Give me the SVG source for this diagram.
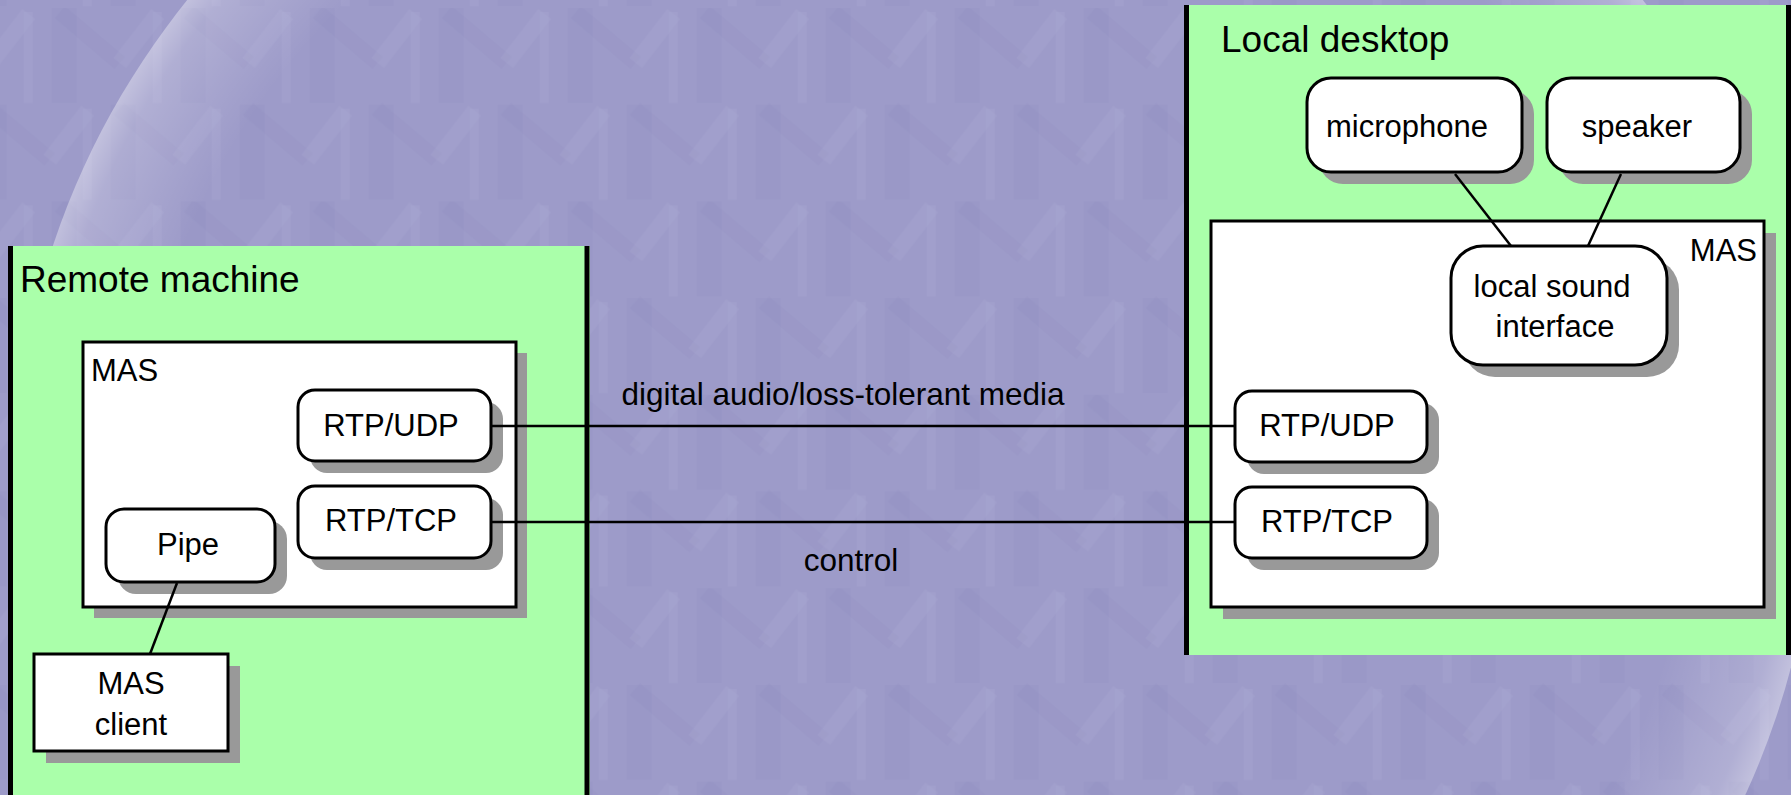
<svg xmlns="http://www.w3.org/2000/svg" width="1791" height="795" viewBox="0 0 1791 795">
  <defs>
    <style>
      .zone { fill: #aaffaa; }
      .edge { stroke: #000; stroke-width: 5; }
      .box { fill: #fff; stroke: #000; stroke-width: 3; }
      .shadow { fill: #999; }
      .wire { stroke: #000; stroke-width: 2.5; fill: none; }
      text { font-family: "Liberation Sans", Arial, sans-serif; fill: #000; }
      .title { font-size: 37px; }
      .lbl { font-size: 31px; }
      .link { font-size: 31.5px; }
      .mid { text-anchor: middle; }
    </style>
    <!-- faint M tiles of the backdrop -->
    <pattern id="mtile" x="51.7" y="8" width="129" height="193.4" patternUnits="userSpaceOnUse">
      <g id="mglyph">
        <rect x="0" y="0" width="25" height="95" fill="#8f8dbf" opacity="0.22"/>
        <line x1="8" y1="4" x2="68" y2="55" stroke="#8f8dbf" stroke-width="16" opacity="0.22"/>
        <line x1="68" y1="55" x2="106" y2="6" stroke="#acaad3" stroke-width="16" opacity="0.25"/>
        <rect x="101" y="4" width="9" height="91" fill="#acaad3" opacity="0.25"/>
      </g>
      <use href="#mglyph" x="59" y="96.7"/>
      <use href="#mglyph" x="-70" y="96.7"/>
    </pattern>
    <radialGradient id="rim" cx="0.5" cy="0.5" r="0.5">
      <stop offset="0.86" stop-color="#fff" stop-opacity="0"/>
      <stop offset="0.97" stop-color="#fff" stop-opacity="0.2"/>
      <stop offset="1" stop-color="#fff" stop-opacity="0.38"/>
    </radialGradient>
  </defs>

  <!-- backdrop -->
  <rect x="0" y="0" width="1791" height="795" fill="#9d9bc9"/>
  <rect x="0" y="0" width="1791" height="795" fill="url(#mtile)"/>
  <ellipse cx="915" cy="480" rx="900" ry="816" fill="url(#rim)"/>

  <!-- remote machine -->
  <g id="remote-machine">
    <rect class="zone" x="8" y="246" width="582" height="549"/>
    <line class="edge" x1="10.5" y1="246" x2="10.5" y2="795"/>
    <line class="edge" x1="587" y1="246" x2="587" y2="795"/>
    <text class="title" x="20" y="292">Remote machine</text>
  </g>

  <g id="remote-mas">
    <rect class="shadow" x="94" y="353" width="433" height="265"/>
    <rect class="box" x="83" y="342" width="433" height="265"/>
    <text class="lbl" x="91" y="381">MAS</text>
  </g>

  <g id="remote-rtp-udp">
    <rect class="shadow" x="310" y="402" width="193" height="71" rx="17"/>
    <rect class="box" x="298" y="390" width="193" height="71" rx="17"/>
    <text class="lbl mid" x="391" y="436">RTP/UDP</text>
  </g>

  <g id="remote-rtp-tcp">
    <rect class="shadow" x="310" y="498" width="193" height="72" rx="17"/>
    <rect class="box" x="298" y="486" width="193" height="72" rx="17"/>
    <text class="lbl mid" x="391" y="531">RTP/TCP</text>
  </g>

  <g id="pipe">
    <rect class="shadow" x="118" y="521" width="169" height="73" rx="18"/>
    <rect class="box" x="106" y="509" width="169" height="73" rx="18"/>
    <text class="lbl mid" x="188" y="555">Pipe</text>
  </g>

  <g id="mas-client">
    <rect class="shadow" x="46" y="666" width="194" height="97"/>
    <rect class="box" x="34" y="654" width="194" height="97"/>
    <text class="lbl mid" x="131" y="694">MAS</text>
    <text class="lbl mid" x="131" y="735">client</text>
  </g>

  <!-- local desktop -->
  <g id="local-desktop">
    <rect class="zone" x="1184" y="5" width="607" height="650"/>
    <line class="edge" x1="1186.5" y1="5" x2="1186.5" y2="655"/>
    <line class="edge" x1="1788.5" y1="5" x2="1788.5" y2="655"/>
    <text class="title" x="1221" y="52">Local desktop</text>
  </g>

  <g id="microphone">
    <rect class="shadow" x="1319" y="90" width="215" height="94" rx="24"/>
    <rect class="box" x="1307" y="78" width="215" height="94" rx="24"/>
    <text class="lbl mid" x="1407" y="137">microphone</text>
  </g>

  <g id="speaker">
    <rect class="shadow" x="1559" y="90" width="193" height="94" rx="24"/>
    <rect class="box" x="1547" y="78" width="193" height="94" rx="24"/>
    <text class="lbl mid" x="1637" y="137">speaker</text>
  </g>

  <g id="local-mas">
    <rect class="shadow" x="1223" y="233" width="553" height="386"/>
    <rect class="box" x="1211" y="221" width="553" height="386"/>
    <text class="lbl" x="1757" y="261" text-anchor="end">MAS</text>
  </g>

  <g id="local-sound-interface">
    <rect class="shadow" x="1463" y="258" width="216" height="119" rx="32"/>
    <rect class="box" x="1451" y="246" width="216" height="119" rx="32"/>
    <text class="lbl mid" x="1552" y="297">local sound</text>
    <text class="lbl mid" x="1555" y="337">interface</text>
  </g>

  <g id="local-rtp-udp">
    <rect class="shadow" x="1247" y="403" width="192" height="71" rx="17"/>
    <rect class="box" x="1235" y="391" width="192" height="71" rx="17"/>
    <text class="lbl mid" x="1327" y="436">RTP/UDP</text>
  </g>

  <g id="local-rtp-tcp">
    <rect class="shadow" x="1247" y="499" width="192" height="71" rx="17"/>
    <rect class="box" x="1235" y="487" width="192" height="71" rx="17"/>
    <text class="lbl mid" x="1327" y="532">RTP/TCP</text>
  </g>

  <!-- connectors -->
  <g id="connectors">
    <line class="wire" x1="491" y1="426" x2="1235" y2="426"/>
    <line class="wire" x1="491" y1="522" x2="1235" y2="522"/>
    <line class="wire" x1="177" y1="583" x2="150" y2="654"/>
    <line class="wire" x1="1455" y1="174" x2="1511" y2="246"/>
    <line class="wire" x1="1621" y1="174" x2="1588" y2="246"/>
    <text class="link mid" x="843" y="405">digital audio/loss-tolerant media</text>
    <text class="link mid" x="851" y="571">control</text>
  </g>
</svg>
